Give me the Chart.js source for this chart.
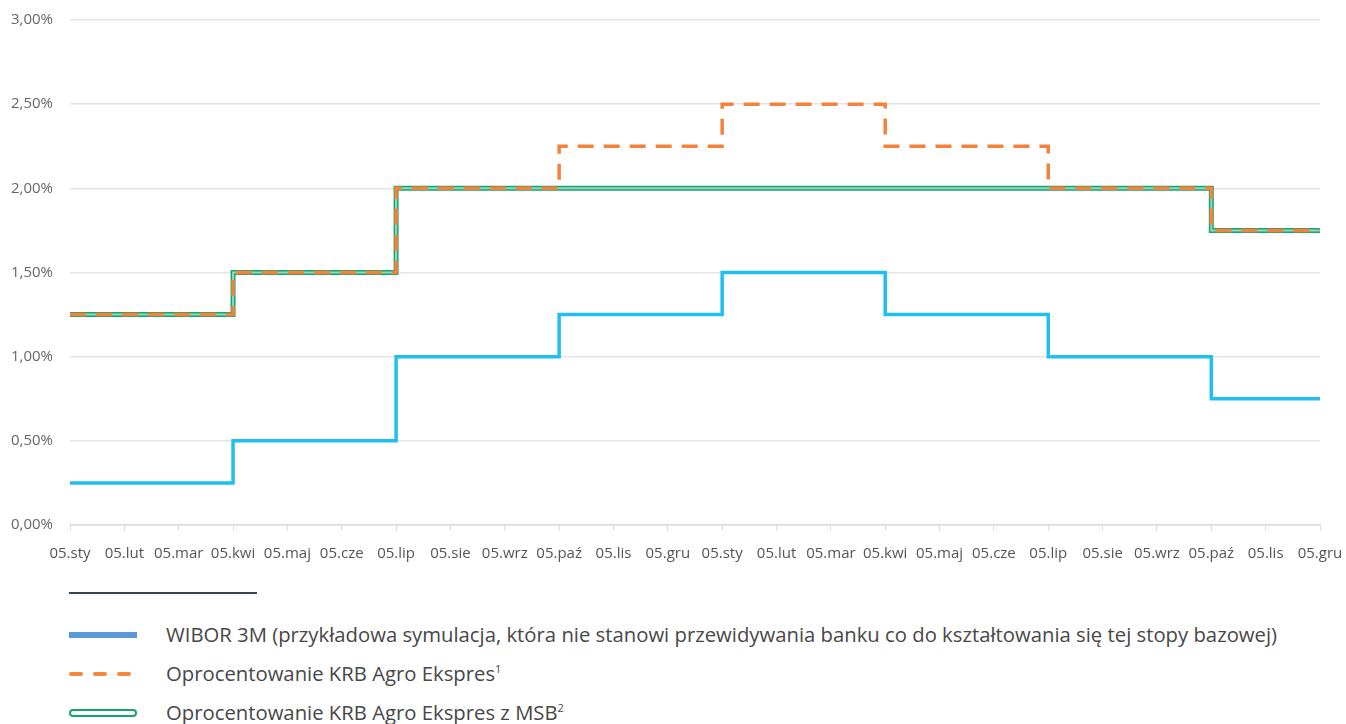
<!DOCTYPE html>
<html>
<head>
<meta charset="utf-8">
<script src="https://cdn.jsdelivr.net/npm/chart.js@4"></script>
<style>
  body{margin:0;background:#fff;font-family:"Open Sans",sans-serif;}
  #wrap{position:relative;width:1346px;height:570px;}
  .divider{position:absolute;left:69px;top:592px;width:188px;height:2px;background:#3b4750;}
  .leg{position:absolute;left:0;height:20px;width:1346px;}
  .leg .sw{position:absolute;left:69px;top:0;width:68px;height:20px;}
  .leg .tx{position:absolute;left:166px;top:-5px;font-size:20.3px;color:#474747;white-space:nowrap;line-height:28px;}
  .leg sup{font-size:11px;vertical-align:8px;line-height:0;}
</style>
</head>
<body>
<div id="wrap"><canvas id="c"></canvas></div>
<div class="divider"></div>
<div class="leg" style="top:625px"><canvas class="sw" id="sw0" width="68" height="20"></canvas><span class="tx">WIBOR 3M (przykładowa symulacja, która nie stanowi przewidywania banku co do kształtowania się tej stopy bazowej)</span></div>
<div class="leg" style="top:664px"><canvas class="sw" id="sw1" width="68" height="20"></canvas><span class="tx">Oprocentowanie KRB Agro Ekspres<sup>1</sup></span></div>
<div class="leg" style="top:703px"><canvas class="sw" id="sw2" width="68" height="20"></canvas><span class="tx">Oprocentowanie KRB Agro Ekspres z MSB<sup>2</sup></span></div>
<script>
const months=['05.sty','05.lut','05.mar','05.kwi','05.maj','05.cze','05.lip','05.sie','05.wrz','05.paź','05.lis','05.gru',
              '05.sty','05.lut','05.mar','05.kwi','05.maj','05.cze','05.lip','05.sie','05.wrz','05.paź','05.lis','05.gru'];
const wibor=[0.25,0.25,0.25,0.5,0.5,0.5,1.0,1.0,1.0,1.25,1.25,1.25,1.5,1.5,1.5,1.25,1.25,1.25,1.0,1.0,1.0,0.75,0.75,0.75];
const krb=[1.25,1.25,1.25,1.5,1.5,1.5,2.0,2.0,2.0,2.25,2.25,2.25,2.5,2.5,2.5,2.25,2.25,2.25,2.0,2.0,2.0,1.75,1.75,1.75];
const krbMsb=[1.25,1.25,1.25,1.5,1.5,1.5,2.0,2.0,2.0,2.0,2.0,2.0,2.0,2.0,2.0,2.0,2.0,2.0,2.0,2.0,2.0,1.75,1.75,1.75];
const yTicks=[0,0.5,1,1.5,2,2.5,3];

const fmt=v=>v.toFixed(2).replace('.',',')+'%';
const cv=document.getElementById('c');
cv.width=1346; cv.height=570;
const step='before';

new Chart(cv,{type:'line',
  data:{labels:months,datasets:[
    {label:'WIBOR 3M',data:wibor,borderColor:'#1fc0ef',borderWidth:3.5,stepped:step,pointRadius:0,order:4},
    {label:'MSB',data:krbMsb,borderColor:'#16a56e',borderWidth:5,stepped:step,pointRadius:0,order:3},
    {label:'MSB inner',data:krbMsb,borderColor:'rgba(255,255,255,0.55)',borderWidth:2,stepped:step,pointRadius:0,order:2},
    {label:'KRB',data:krb,borderColor:'#f5823a',borderWidth:3.5,borderDash:[16,10],stepped:step,pointRadius:0,order:1}
  ]},
  options:{responsive:false,animation:false,
    layout:{padding:{top:20,right:26,left:0,bottom:0}},
    plugins:{legend:{display:false},tooltip:{enabled:false}},
    scales:{
      x:{grid:{drawOnChartArea:false,drawTicks:true,tickLength:20,tickBorderDash:[5,100],color:'#dcdcdc'},border:{color:'#dcdcdc',width:1.5},
         ticks:{color:'#555',font:{family:'Open Sans',size:15},padding:0,maxRotation:0,autoSkip:false},
         afterFit:s=>{s.height=45;}},
      y:{min:0,max:3,afterBuildTicks:s=>{s.ticks=yTicks.map(v=>({value:v}));},
         grid:{color:'#e4e4e4',lineWidth:1.5,drawTicks:true,tickLength:17,tickColor:'rgba(0,0,0,0)'},border:{display:false},
         ticks:{color:'#666',font:{family:'Open Sans',size:15},padding:0,callback:v=>fmt(v)},
         afterFit:s=>{s.width=70;}}
    }}
});

// legend swatches
let g=document.getElementById('sw0').getContext('2d');
g.fillStyle='#5b9bd5'; g.fillRect(0,7,68,6);
g=document.getElementById('sw1').getContext('2d');
g.strokeStyle='#f5873f'; g.lineWidth=4; g.lineCap='round'; g.setLineDash([10,14]);
g.beginPath(); g.moveTo(2,10); g.lineTo(68,10); g.stroke();
g=document.getElementById('sw2').getContext('2d');
g.strokeStyle='#16a56e'; g.lineWidth=2;
g.beginPath(); g.roundRect(1,7,66,6,3); g.stroke();
</script>
</body>
</html>
